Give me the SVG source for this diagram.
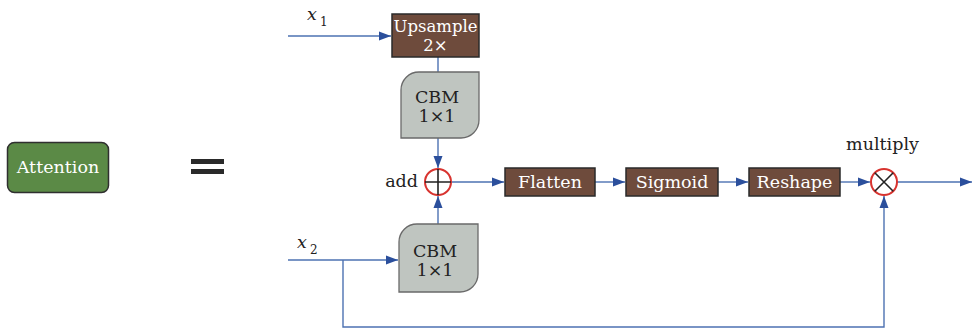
<svg xmlns="http://www.w3.org/2000/svg" width="972" height="331" viewBox="0 0 972 331">
<style>
.t{font-family:"DejaVu Serif","Liberation Serif",serif;font-size:17.5px;text-anchor:middle}
.s{font-size:16.5px}
.w{fill:#ffffff}
.k{fill:#222222}
.box{fill:#6e4b3c;stroke:#2a2a2a;stroke-width:1.5}
.cbm{fill:#bfc5c0;stroke:#6a6a6a;stroke-width:1.3}
.ln{fill:none;stroke:#4d72b2;stroke-width:1.4}
.ring{fill:#ffffff;stroke:#d8332f;stroke-width:2}
.x{stroke:#222222;stroke-width:1.6}
</style>
<defs>
<marker id="ah" markerUnits="userSpaceOnUse" markerWidth="12" markerHeight="10" refX="12" refY="5" orient="auto">
<path d="M0,0.5 L12,5 L0,9.5 Z" fill="#2b4f9c"/>
</marker>
</defs>
<rect width="972" height="331" fill="#ffffff"/>

<g id="attention">
<rect x="7.5" y="142.5" width="101" height="50" rx="7" fill="#5b8a46" stroke="#2f2f2f" stroke-width="1.5"/>
<text class="t w" x="58" y="173">Attention</text>
</g>
<g id="equals">
<rect x="191" y="159" width="33" height="5" fill="#2a2a2a"/>
<rect x="191" y="169" width="33" height="5" fill="#2a2a2a"/>
</g>

<g id="connectors">
<path class="ln" d="M288 36 H391" marker-end="url(#ah)"/>
<path class="ln" d="M438 57 V72"/>
<path class="ln" d="M438 138 V168" marker-end="url(#ah)"/>
<path class="ln" d="M438 224 V196" marker-end="url(#ah)"/>
<path class="ln" d="M288 260 H398" marker-end="url(#ah)"/>
<path class="ln" d="M343 260 V327 H884 V196" marker-end="url(#ah)"/>
<path class="ln" d="M451 182 H504" marker-end="url(#ah)"/>
<path class="ln" d="M595 182 H625" marker-end="url(#ah)"/>
<path class="ln" d="M718 182 H748" marker-end="url(#ah)"/>
<path class="ln" d="M840 182 H870" marker-end="url(#ah)"/>
<path class="ln" d="M897 182 H972" marker-end="url(#ah)"/>
</g>

<g id="x1">
<text class="t k" x="307" y="20" style="text-anchor:start;font-style:italic">x</text>
<text class="t k" x="320" y="26" style="text-anchor:start;font-size:12px">1</text>
</g>
<g id="x2">
<text class="t k" x="297" y="248" style="text-anchor:start;font-style:italic">x</text>
<text class="t k" x="310" y="254" style="text-anchor:start;font-size:12px">2</text>
</g>

<g id="upsample">
<rect class="box" x="392" y="14" width="87" height="43"/>
<text class="t w s" x="435.5" y="32">Upsample</text>
<text class="t w s" x="435.5" y="51">2×</text>
</g>

<g id="cbm1">
<path class="cbm" d="M419 72 H479 V120 A18 18 0 0 1 461 138 H401 V90 A18 18 0 0 1 419 72 Z"/>
<text class="t k" x="437" y="103">CBM</text>
<text class="t k" x="437" y="122">1×1</text>
</g>

<g id="cbm2">
<path class="cbm" d="M417 224 H478 V274 A18 18 0 0 1 460 292 H399 V242 A18 18 0 0 1 417 224 Z"/>
<text class="t k" x="435" y="257">CBM</text>
<text class="t k" x="435" y="276">1×1</text>
</g>

<g id="add">
<circle class="ring" cx="438" cy="182" r="13"/>
<path class="x" d="M425 182 H451 M438 169 V195"/>
<text class="t k" x="418" y="187" style="text-anchor:end">add</text>
</g>

<g id="flatten">
<rect class="box" x="505" y="168" width="90" height="28"/>
<text class="t w" x="550" y="188">Flatten</text>
</g>
<g id="sigmoid">
<rect class="box" x="626" y="168" width="92" height="28"/>
<text class="t w" x="672" y="188">Sigmoid</text>
</g>
<g id="reshape">
<rect class="box" x="749" y="168" width="91" height="28"/>
<text class="t w" x="794.5" y="188">Reshape</text>
</g>

<g id="multiply">
<circle class="ring" cx="884" cy="182" r="13"/>
<path class="x" d="M874.8 172.8 L893.2 191.2 M893.2 172.8 L874.8 191.2"/>
<text class="t k" x="882.5" y="150">multiply</text>
</g>
</svg>
